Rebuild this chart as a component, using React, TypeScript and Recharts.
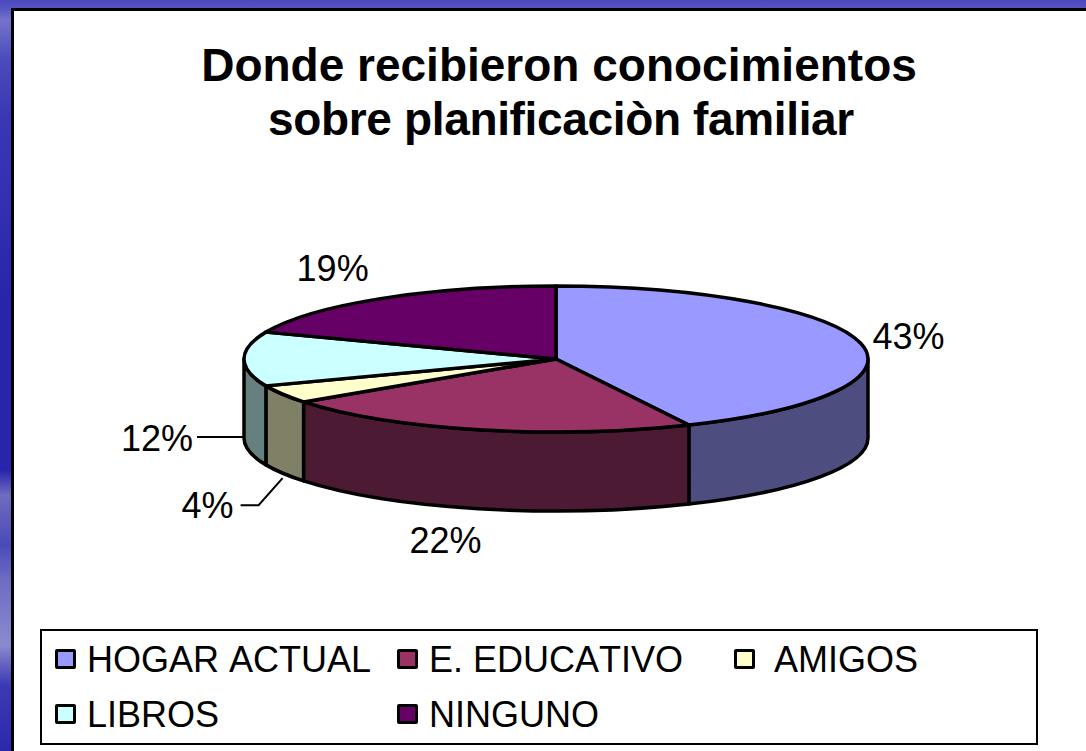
import React from 'react';
import { PieChart, Pie, Cell, Legend } from 'recharts';

const categories = ['HOGAR ACTUAL', 'E. EDUCATIVO', 'AMIGOS', 'LIBROS', 'NINGUNO'];
const shares = [43, 22, 4, 12, 19];
const topColors = ['#9999FF', '#993366', '#FFFFCC', '#CCFFFF', '#660066'];
const wallColors = ['#4D4D80', '#4D1A33', '#808066', '#668080', '#330033'];
const titleLines = ['Donde recibieron conocimientos', 'sobre planificaciòn familiar'];

const rows = categories.map((name, i) => ({ name, value: shares[i] }));

const CX = 556;
const CY = 359;
const RX = 312;
const RY = 73;
const DEPTH = 79;
const FONT = '"Liberation Sans", Arial, sans-serif';

const rim = (deg: number, drop = 0) => {
  const r = (deg * Math.PI) / 180;
  return { x: CX + RX * Math.sin(r), y: CY - RY * Math.cos(r) + drop };
};

const Slice3D = (props: any) => {
  const a0 = 90 - props.startAngle;
  const a1 = 90 - props.endAngle;
  const idx = categories.indexOf(props.name ?? props.payload?.name);
  const p0 = rim(a0);
  const p1 = rim(a1);
  const large = a1 - a0 > 180 ? 1 : 0;
  const top = `M${CX},${CY} L${p0.x},${p0.y} A${RX},${RY} 0 ${large} 1 ${p1.x},${p1.y} Z`;
  const w0 = Math.max(a0, 90);
  const w1 = Math.min(a1, 270);
  let wall = null;
  if (w1 > w0) {
    const q0 = rim(w0);
    const q1 = rim(w1);
    const d = `M${q0.x},${q0.y} A${RX},${RY} 0 0 1 ${q1.x},${q1.y} L${q1.x},${q1.y + DEPTH} A${RX},${RY} 0 0 0 ${q0.x},${q0.y + DEPTH} Z`;
    wall = <path d={d} fill={wallColors[idx]} stroke="#000" strokeWidth={3.5} strokeLinejoin="round" />;
  }
  return (
    <g>
      {wall}
      <path d={top} fill={topColors[idx]} stroke="#000" strokeWidth={3.5} strokeLinejoin="round" />
    </g>
  );
};

const SliceLabel = (props: any) => {
  const { index, value, midAngle } = props;
  const a = 90 - midAngle;
  const p = rim(a);
  const nudge = [
    { dx: 48, dy: -7 },
    { dx: -33, dy: 111 },
    { dx: -75, dy: 111 },
    { dx: -87, dy: 79 },
    { dx: -48, dy: -30 },
  ][index];
  const lx = p.x + nudge.dx;
  const ly = p.y + nudge.dy;
  return (
    <g>
      {index === 2 && (
        <polyline
          points={`${p.x},${p.y + DEPTH + 5} ${lx + 51},${ly} ${lx + 33},${ly}`}
          fill="none"
          stroke="#000"
          strokeWidth={2}
        />
      )}
      {index === 3 && (
        <line x1={lx + 40} y1={ly - 1} x2={p.x} y2={ly - 1} stroke="#000" strokeWidth={2} />
      )}
      <text
        x={lx}
        y={ly}
        textAnchor="middle"
        dominantBaseline="central"
        fontFamily={FONT}
        fontSize={36}
        fill="#000"
      >
        {`${value}%`}
      </text>
    </g>
  );
};

const LegendBox = ({ payload }: any) => (
  <div
    style={{
      boxSizing: 'border-box',
      width: 998,
      height: 116,
      border: '2px solid #000',
      background: '#fff',
      position: 'relative',
      fontFamily: FONT,
      fontSize: 36,
      fontKerning: 'none',
      color: '#000',
    }}
  >
    {(payload ?? []).map((entry: any, i: number) => {
      const name = entry.value;
      const idx = categories.indexOf(name);
      const col = idx % 3;
      const row = Math.floor(idx / 3);
      const left = [13, 355, 692][col];
      const textLeft = [45, 387, 732][col];
      const top = 18 + row * 55;
      return (
        <React.Fragment key={i}>
          <span
            style={{
              position: 'absolute',
              left,
              top,
              width: 21,
              height: 20,
              boxSizing: 'border-box',
              border: '3px solid #000',
              borderRadius: 2,
              background: topColors[idx],
            }}
          />
          <span style={{ position: 'absolute', left: textLeft, top: top - 9, lineHeight: '40px', whiteSpace: 'nowrap' }}>
            {name}
          </span>
        </React.Fragment>
      );
    })}
  </div>
);

export default function App() {
  return (
    <div
      style={{
        position: 'fixed',
        left: 0,
        top: 0,
        width: 1086,
        height: 751,
        overflow: 'hidden',
        background:
          'linear-gradient(180deg,#4a48c0 0,#5a58c4 10px,#7474cc 20px,#4c4abc 60px,#3a36b4 120px,#3430b0 200px,#2a24aa 300px,#2a24aa 470px,#6c6cc0 495px,#4c4ab8 545px,#6c6cc4 580px,#8a8ad0 645px,#3c3ab2 685px,#2c28ac 751px)',
      }}
    >
      <div
        style={{
          position: 'absolute',
          left: 11,
          top: 8,
          right: 0,
          bottom: 0,
          background: '#fff',
          borderLeft: '3px solid #000',
          borderTop: '3px solid #000',
          boxSizing: 'border-box',
        }}
      />
      <div
        style={{
          position: 'absolute',
          left: 0,
          top: 38,
          width: 1120,
          textAlign: 'center',
          fontFamily: FONT,
          fontWeight: 'bold',
          fontSize: 46,
          lineHeight: '54px',
          color: '#000',
        }}
      >
        {titleLines.map((t, i) => (
          <div key={t} style={{ letterSpacing: i === 1 ? -0.35 : 0, marginLeft: i === 0 ? -2 : 2 }}>
            {t}
          </div>
        ))}
      </div>
      <div style={{ position: 'absolute', left: 0, top: 0 }}>
        <PieChart width={1086} height={751} margin={{ top: 0, right: 0, bottom: 0, left: 0 }}>
          <Pie
            data={rows}
            dataKey="value"
            nameKey="name"
            cx={CX}
            cy={CY}
            outerRadius={RX}
            startAngle={90}
            endAngle={-270}
            paddingAngle={0}
            stroke="#000"
            isAnimationActive={false}
            shape={Slice3D}
            label={SliceLabel}
            labelLine={false}
          >
            {rows.map((r, i) => (
              <Cell key={r.name} fill={topColors[i]} />
            ))}
          </Pie>
          <Legend
            content={LegendBox}
            wrapperStyle={{ position: 'absolute', left: 40, top: 629, width: 998, height: 116 }}
          />
        </PieChart>
      </div>
    </div>
  );
}
